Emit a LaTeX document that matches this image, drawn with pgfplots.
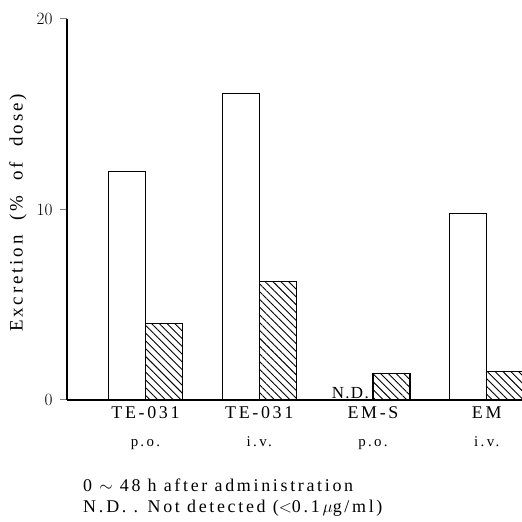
\documentclass[border=0pt]{standalone}
\usepackage{fontspec}
\setmainfont{Liberation Serif}
\newfontfamily\spc[LetterSpace=15]{Liberation Serif}
\newfontfamily\spn[LetterSpace=8]{Liberation Serif}
\usepackage{pgfplots}
\pgfplotsset{compat=1.18}
\usetikzlibrary{patterns.meta}

\begin{document}
\begin{tikzpicture}[x=1bp,y=1bp]
\useasboundingbox (0,0) rectangle (522,522);
\begin{axis}[
  at={(67bp,122bp)}, anchor=south west,
  scale only axis, width=455bp, height=381bp,
  xmin=0.31, xmax=4.31, ymin=0, ymax=20,
  axis x line*=bottom, axis y line*=left,
  axis line style={line width=1.1bp},
  ytick={0,10,20},
  tick align=outside, major tick length=7bp,
  ytick style={line width=1bp},
  y tick label style={font=\fontsize{19}{21}\selectfont, xshift=-4bp},
  xtick={1,2,3,4},
  xtick style={draw=none},
  xticklabels={
    {{\spc TE-031}\\[8bp]{\fontsize{15}{16}\selectfont\spc p.\,o.}},
    {{\spc TE-031}\\[8bp]{\fontsize{15}{16}\selectfont\spc i.\,v.}},
    {{\spc EM-S}\\[8bp]{\fontsize{15}{16}\selectfont\spc p.\,o.}},
    {{\spc EM}\\[8bp]{\fontsize{15}{16}\selectfont\spc i.\,v.}}},
  x tick label style={font=\fontsize{18}{20}\selectfont, align=center, anchor=north, yshift=4bp},
  ybar, bar width=0.325,
]
\addplot[draw=black, fill=white, line width=1.2bp, bar shift=-0.1625] coordinates {(1,12.0) (2,16.1) (4,9.8)};
\addplot[draw=black, line width=1.2bp, bar shift=0.1625,
  pattern={Lines[angle=-45, distance=5.5bp, line width=0.9bp]}] coordinates {(1,4.0) (2,6.2) (3,1.4) (4,1.5)};
\node[anchor=south east, inner sep=1bp, xshift=-3bp, font=\fontsize{17}{18}\selectfont\spn] at (axis cs:3,0) {N.D.};
\end{axis}
\node[rotate=90, font=\fontsize{19}{21}\selectfont\spc] at (18,309) {Excretion \ (\% \ of \ dose)};
\node[anchor=west, inner sep=0pt, font=\fontsize{18}{20}\selectfont\spc] at (83,37) {0 $\sim$ 48 h after administration};
\node[anchor=west, inner sep=0pt, font=\fontsize{18}{20}\selectfont\spc] at (83,14) {N.\,D. . Not detected ($<$0.1\,$\mu$g/ml)};
\end{tikzpicture}
\end{document}
